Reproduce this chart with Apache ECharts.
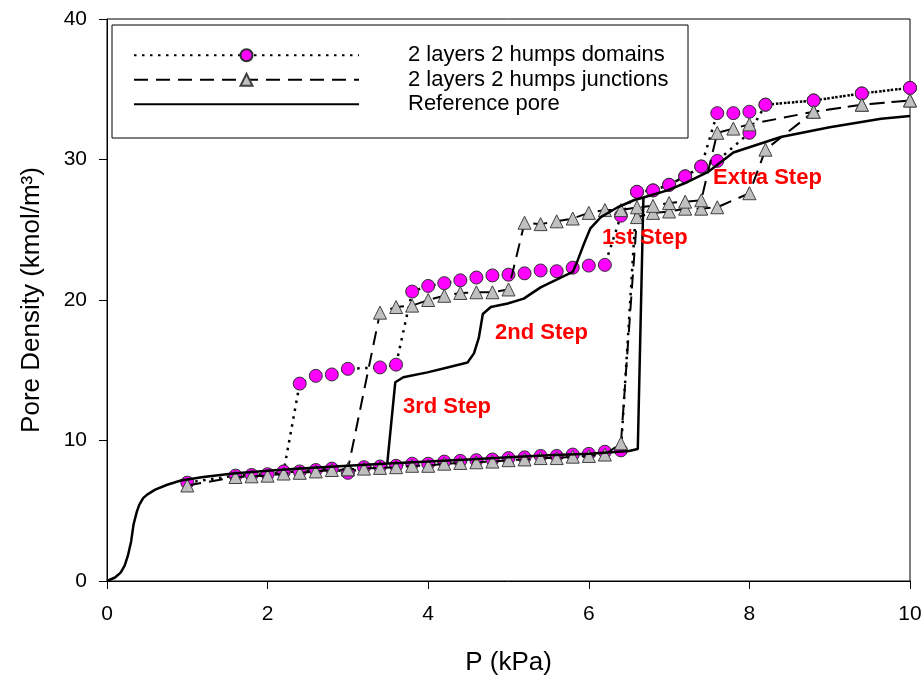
<!DOCTYPE html>
<html><head><meta charset="utf-8">
<script src="https://cdn.jsdelivr.net/npm/echarts@6/dist/echarts.min.js"></script>
<style>html,body{margin:0;padding:0;background:#fff}#c{width:921px;height:676px}</style>
</head><body><div id="c"></div>
<script>
// ---- data ----
const seriesNames = ['2 layers 2 humps domains', '2 layers 2 humps junctions', 'Reference pore'];
const xTickValues = [0, 2, 4, 6, 8, 10];
const yTickValues = [0, 10, 20, 30, 40];

const domainsAdsorption = [[1.0,7.0],[1.6,7.5],[1.8,7.55],[2.0,7.6],[2.2,7.75],[2.4,7.8],[2.6,7.9],[2.8,8.0],[3.0,7.7],[3.2,8.1],[3.4,8.15],[3.6,8.2],[3.8,8.35],[4.0,8.35],[4.2,8.5],[4.4,8.55],[4.6,8.6],[4.8,8.65],[5.0,8.75],[5.2,8.8],[5.4,8.9],[5.6,8.9],[5.8,9.0],[6.0,9.05],[6.2,9.2],[6.4,9.3],
  [6.6,27.7],[6.8,27.8],[7.0,28.2],[7.2,28.8],[7.4,29.5],[7.6,29.9],[8.0,31.9],[8.2,33.9],[8.8,34.2],[9.4,34.7],[10.0,35.1]];
const domainsDesorption = [[10.0,35.1],[9.4,34.7],[8.8,34.2],[8.2,33.9],[8.0,33.4],[7.8,33.3],[7.6,33.3],[7.4,29.5],[7.2,28.8],[7.0,28.2],[6.8,27.8],[6.6,27.7],[6.4,26.0],[6.2,22.5],[6.0,22.45],[5.8,22.3],[5.6,22.05],[5.4,22.1],[5.2,21.9],[5.0,21.8],[4.8,21.75],[4.6,21.6],[4.4,21.4],[4.2,21.2],[4.0,21.0],[3.8,20.6],[3.6,15.4],[3.4,15.2],[3.0,15.1],[2.8,14.7],[2.6,14.6],[2.4,14.05],[2.2,7.8]];

const junctionsAdsorption = [[1.0,6.8],[1.6,7.4],[1.8,7.45],[2.0,7.5],[2.2,7.65],[2.4,7.7],[2.6,7.8],[2.8,7.9],[3.0,7.95],[3.2,8.0],[3.4,8.05],[3.6,8.1],[3.8,8.2],[4.0,8.2],[4.2,8.35],[4.4,8.4],[4.6,8.45],[4.8,8.5],[5.0,8.6],[5.2,8.65],[5.4,8.75],[5.6,8.75],[5.8,8.85],[6.0,8.9],[6.2,9.0],[6.4,9.8],
  [6.6,25.9],[6.8,26.2],[7.0,26.3],[7.2,26.5],[7.4,26.5],[7.6,26.6],[8.0,27.6],[8.2,30.7],[8.8,33.4],[9.4,33.9],[10.0,34.2]];
const junctionsDesorption = [[10.0,34.2],[9.4,33.9],[8.8,33.4],[8.0,32.5],[7.8,32.2],[7.6,31.9],[7.4,27.1],[7.2,27.0],[7.0,26.9],[6.8,26.7],[6.6,26.6],[6.4,26.4],[6.2,26.4],[6.0,26.2],[5.8,25.8],[5.6,25.6],[5.4,25.4],[5.2,25.5],[5.0,20.75],[4.8,20.55],[4.6,20.55],[4.4,20.5],[4.2,20.3],[4.0,20.0],[3.8,19.6],[3.6,19.5],[3.4,19.1],[3.0,7.95]];

const referenceAdsorption = [[0,0],[0.1,0.25],[0.17,0.6],[0.22,1.1],[0.26,1.8],[0.3,2.8],[0.33,4.0],[0.37,4.9],[0.4,5.4],[0.45,5.9],[0.5,6.15],[0.6,6.5],[0.75,6.85],[0.92,7.15],[1.2,7.4],[1.57,7.65],[2.0,7.85],[2.41,8.0],[3.0,8.2],[3.44,8.35],[4.0,8.5],[4.5,8.65],[5.0,8.8],[5.5,8.95],[6.0,9.05],[6.5,9.25],[6.61,9.4],[6.68,27.3],[6.98,27.8],[7.23,28.4],[7.48,29.1],[7.8,30.5],[8.39,31.6],[9.0,32.3],[9.64,32.9],[10.0,33.1]];
const referenceDesorption = [[10.0,33.1],[9.64,32.9],[9.0,32.3],[8.39,31.6],[7.8,30.5],[7.48,29.1],[7.23,28.4],[6.98,27.8],[6.68,27.3],[6.56,27.1],[6.36,26.6],[6.15,25.9],[6.02,25.1],[5.94,24.0],[5.86,22.8],[5.8,22.0],[5.65,21.6],[5.4,20.9],[5.19,20.1],[4.99,19.75],[4.78,19.5],[4.68,19.0],[4.63,17.3],[4.57,16.2],[4.49,15.55],[4.24,15.2],[3.99,14.85],[3.69,14.5],[3.59,14.15],[3.49,8.35]];

const stepLabels = ['Extra Step', '1st Step', '2nd Step', '3rd Step'];
// ---- chart ----
const FONT = '"Liberation Sans", Arial, sans-serif';
const chart = echarts.init(document.getElementById('c'), null, {renderer: 'canvas'});
const labelPos = [[713,178],[602,238],[495,333],[403,407]];
chart.setOption({
  animation: false,
  backgroundColor: '#fff',
  grid: {left: 107, top: 19, right: 11, bottom: 95, show: true, borderColor: '#000', borderWidth: 1,
    backgroundColor: 'transparent', containLabel: false, outerBoundsMode: 'none'},
  xAxis: {
    type: 'value', min: 0, max: 10, interval: 2,
    name: 'P (kPa)', nameLocation: 'middle', nameGap: 69,
    nameTextStyle: {fontFamily: FONT, fontSize: 26, color: '#000'},
    axisLine: {show: true, onZero: false, lineStyle: {color: '#000', width: 1}},
    axisTick: {show: true, length: 8, lineStyle: {color: '#000'}},
    axisLabel: {fontFamily: FONT, fontSize: 21, color: '#000', margin: 23,
      formatter: v => xTickValues.includes(v) ? String(v) : ''},
    splitLine: {show: false}
  },
  yAxis: {
    type: 'value', min: 0, max: 40, interval: 10,
    name: 'Pore Density (kmol/m³)', nameLocation: 'middle', nameGap: 62,
    nameTextStyle: {fontFamily: FONT, fontSize: 26, color: '#000'},
    axisLine: {show: true, onZero: false, lineStyle: {color: '#000', width: 1}},
    axisTick: {show: true, length: 8, lineStyle: {color: '#000'}},
    axisLabel: {fontFamily: FONT, fontSize: 21, color: '#000', margin: 20,
      formatter: v => yTickValues.includes(v) ? String(v) : ''},
    splitLine: {show: false}
  },
  legend: {
    orient: 'vertical', left: 128, top: 38,
    itemWidth: 225, itemHeight: 15, itemGap: 0,
    textStyle: {fontFamily: FONT, fontSize: 22, color: '#000', lineHeight: 24.5, padding: [0, 0, 0, 44]},
    data: seriesNames
  },
  graphic: [
    {type: 'rect', shape: {x: 112, y: 25, width: 576, height: 113}, style: {fill: 'none', stroke: '#000', lineWidth: 1}, z: 100},
    ...stepLabels.map((t, i) => ({type: 'text', x: labelPos[i][0], y: labelPos[i][1], z: 100,
      style: {text: t, fill: '#ff0000', font: 'bold 22px ' + FONT, textVerticalAlign: 'middle'}}))
  ],
  series: [
    {name: seriesNames[0], type: 'line', data: domainsAdsorption.concat(domainsDesorption),
      symbol: 'circle', symbolSize: 13, showSymbol: true,
      itemStyle: {color: '#ff00ff', borderColor: '#303030', borderWidth: 1},
      lineStyle: {color: '#000', width: 2.5, type: [2.5, 5.5]}, z: 2},
    {name: seriesNames[1], type: 'line', data: junctionsAdsorption.concat(junctionsDesorption),
      symbol: 'triangle', symbolSize: 13, showSymbol: true,
      itemStyle: {color: '#c0c0c0', borderColor: '#404040', borderWidth: 1},
      lineStyle: {color: '#000', width: 2, type: [14, 8]}, z: 3},
    {name: seriesNames[2], type: 'line', data: referenceAdsorption.concat(referenceDesorption),
      symbol: 'none', showSymbol: false,
      itemStyle: {color: 'transparent', borderWidth: 0},
      lineStyle: {color: '#000', width: 2.5, type: 'solid'}, z: 4}
  ]
});
</script></body></html>
